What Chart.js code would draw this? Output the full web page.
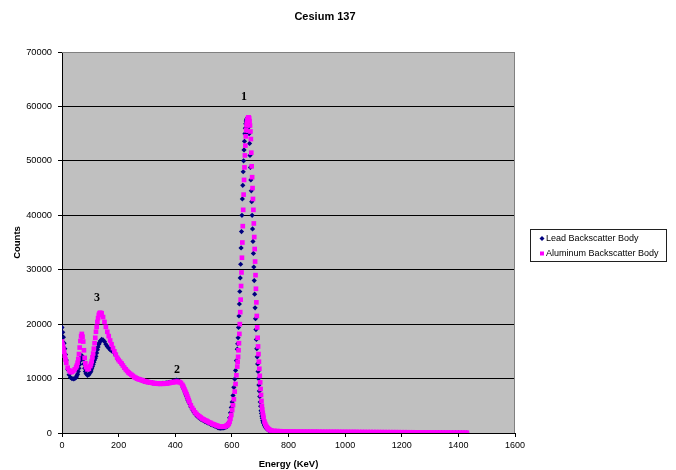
<!DOCTYPE html>
<html><head><meta charset="utf-8">
<script src="https://cdn.jsdelivr.net/npm/chart.js@4.4.1/dist/chart.umd.min.js"></script>
<style>html,body{margin:0;padding:0;background:#fff}#wrap{width:676px;height:470px}</style>
</head><body><div id="wrap"><canvas id="c" width="676" height="470"></canvas></div>
<script>
const chartTitle = 'Cesium 137';
const xAxisTitle = 'Energy (KeV)';
const yAxisTitle = 'Counts';
const seriesNames = ['Lead Backscatter Body', 'Aluminum Backscatter Body'];
const xTicks = [0, 200, 400, 600, 800, 1000, 1200, 1400, 1600];
const yTicks = [0, 10000, 20000, 30000, 40000, 50000, 60000, 70000];

// Energy grid (keV), in segments
const energyLow = [0,5,10,15,20,25,30,35,40,45,50,55,60,65,70,75,80,85,90,95,100,105,110,115,120,125,130,135,140,145,150,155,160,165,170,175,180,185,190,195,200,205,210,215,220,225,230,235,240,245,250,255,260,265,270,275,280,285,290,295,300,305,310,315,320,325,330,335,340,345,350,355,360,365,370,375,380,385,390,395,400,405,410,415,420,425,430,435,440,445,450,455,460,465,470,475,480,485,490,495,500,505,510,515,520,525,530,535,540,545,550,555,560,565,570,575,580];
const energyExtra = [2.5,7.5,12.5,52.5,57.5,62.5,67.5,72.5,77.5,82.5,102.5,107.5,112.5,117.5,122.5,127.5,132.5,427.5,432.5,437.5,442.5,447.5];
const energyRise = [583,586,589,592,595,598,601,604,607,610,613,616];
const energyPeak = [619,620.5,622,623.5,625,626.5,628,629.5,631,632.5,634,635.5,637,638.5,640,641.5,643,644.5,646,647.5,649,650.5,652,653.5,655,656.5,658,659.5,661,662.5,664,665.5,667,668.5,670,671.5,673,674.5,676,677.5,679,680.5,682,683.5,685,686.5,688,689.5,691,692.5,694,695.5,697,698.5,700,701.5,703,704.5,706,707.5,709,710.5,712];
const energyFall = [715,718,721,724,727,730,733,736];
const energyTail = [740,750,760,770,780,790,800,810,820,830,840,850,860,870,880,890,900,910,920,930,940,950,960,970,980,990,1000,1010,1020,1030,1040,1050,1060,1070,1080,1090,1100,1110,1120,1130,1140,1150,1160,1170,1180,1190,1200,1210,1220,1230,1240,1250,1260,1270,1280,1290,1300,1310,1320,1330,1340,1350,1360,1370,1380,1390,1400,1410,1420,1430];

// Lead Backscatter Body counts
const leadLow = [19400,17600,15500,13400,11700,10700,10200,10000,9950,10000,10200,10800,11900,13300,14200,13500,11900,10900,10600,10700,11100,11800,12600,13400,14100,15300,16300,16900,17200,17100,16800,16300,15900,15600,15300,15100,15000,14700,14300,13800,13400,13100,12800,12400,12000,11700,11400,11150,10900,10700,10500,10300,10100,10000,9900,9800,9700,9600,9500,9450,9400,9350,9300,9250,9200,9150,9100,9100,9050,9050,9050,9100,9100,9150,9200,9250,9300,9350,9450,9550,9650,9700,9650,9450,9150,8700,8100,7400,6700,6000,5400,4800,4300,3900,3500,3200,2950,2750,2550,2400,2250,2100,2000,1850,1750,1600,1500,1400,1250,1150,1000,900,900,900,950,1000,1100];
const leadExtra = [18500,16500,14400,10500,11300,12600,13900,14000,12700,11300,11400,12200,13000,13750,14700,15800,16600,8400,7750,7050,6350,5700];
const leadRise = [1200,1450,1900,2800,3700,4700,5700,6900,8400,9900,11500,13300];
const leadPeak = [15400,16400,17500,19400,21500,23700,26000,28500,31000,34000,37000,40000,43000,45500,48000,50000,52000,53600,55000,56000,56800,57300,57600,57800,57800,57500,57000,56200,55000,53200,51000,48800,46500,44500,42500,40000,37500,35200,33000,30500,28000,25500,23000,21000,19000,17200,15500,14000,12700,11300,10000,8800,7700,6700,5700,4900,4100,3600,3100,2700,2300,2000,1800];
const leadFall = [1400,1100,900,750,600,500,400,350];
const leadTail = [300,260,230,210,200,190,185,180,175,170,165,160,160,155,150,150,145,140,140,135,130,130,125,120,120,115,110,110,105,100,100,95,90,90,85,80,80,75,70,70,65,60,60,55,50,50,50,45,45,40,40,40,35,35,35,30,30,30,30,25,25,25,25,20,20,20,20,20,20,20];

// Aluminum Backscatter Body counts
const aluminumLow = [16800,15600,14200,12900,12000,11500,11200,11200,11400,11700,12100,12900,14500,16900,18200,16800,13800,12100,11700,11800,12300,13200,14600,16500,18600,20400,21700,22100,22000,21300,20400,19500,18600,17800,17000,16300,15600,15000,14400,13800,13400,13100,12800,12400,12000,11700,11400,11100,10900,10700,10500,10300,10150,10000,9900,9800,9750,9650,9550,9450,9400,9350,9300,9250,9200,9150,9100,9100,9050,9050,9050,9050,9050,9100,9100,9150,9200,9250,9300,9350,9400,9400,9400,9350,9200,8850,8300,7700,7100,6400,5700,5100,4600,4200,3800,3500,3250,3050,2850,2650,2500,2350,2250,2100,1950,1850,1700,1600,1500,1400,1300,1200,1150,1150,1150,1200,1300];
const aluminumExtra = [16200,14900,13500,12400,13600,15700,17800,17700,15200,12800,12700,13900,15500,17500,19500,21100,22000,8600,8000,7400,6750,6050];
const aluminumRise = [1400,1500,1700,2050,2600,3300,4200,5100,6200,7600,9000,10600];
const aluminumPeak = [12200,13100,14000,15200,16500,18200,20000,22200,24500,27000,29500,32200,35000,38000,41000,43800,46500,48800,51000,52800,54500,55600,56500,57000,57500,57800,58000,58000,57800,57300,56500,55400,54000,51500,49000,47000,45000,43000,41000,38500,36000,33800,31500,29000,26500,24000,21500,19400,17500,15900,14500,13100,11800,10500,9300,8100,7000,5900,5000,4300,3700,3200,2800];
const aluminumFall = [2100,1650,1300,1050,850,700,600,500];
const aluminumTail = [450,400,360,330,310,300,290,280,275,270,265,260,255,250,250,245,240,240,235,230,230,225,220,220,215,210,210,205,200,200,195,190,190,185,180,180,175,170,170,165,160,160,155,150,150,145,140,140,135,130,130,125,120,120,115,110,110,105,100,100,95,90,90,85,80,80,75,70,70,65];

// Peak annotations
const peakLabels = ['1', '2', '3'];
const peakLabelKeV = [643, 406, 124];
const peakLabelCounts = [61700, 11600, 24800];

const energyKeV = [].concat(energyLow, energyExtra, energyRise, energyPeak, energyFall, energyTail);
const leadCounts = [].concat(leadLow, leadExtra, leadRise, leadPeak, leadFall, leadTail);
const aluminumCounts = [].concat(aluminumLow, aluminumExtra, aluminumRise, aluminumPeak, aluminumFall, aluminumTail);

function pts(ys) {
  const n = Math.min(energyKeV.length, ys.length);
  const out = [];
  for (let i = 0; i < n; i++) out.push({ x: energyKeV[i], y: ys[i] });
  return out;
}

const F = 'Arial, "Liberation Sans", sans-serif';
const SERIF = '"Liberation Serif", "Times New Roman", serif';
const leadColor = '#000080';
const alColor = '#FF00FF';

const decor = {
  id: 'decor',
  beforeDraw(chart) {
    const { ctx, chartArea: a } = chart;
    ctx.save();
    ctx.fillStyle = '#ffffff';
    ctx.fillRect(0, 0, chart.width, chart.height);
    ctx.fillStyle = '#C0C0C0';
    ctx.fillRect(a.left, a.top, a.right - a.left, a.bottom - a.top);
    ctx.restore();
  },
  beforeDatasetsDraw(chart) {
    const { ctx, chartArea: a } = chart;
    ctx.save();
    ctx.strokeStyle = '#808080';
    ctx.lineWidth = 1;
    ctx.beginPath();
    ctx.moveTo(a.left, a.top + 0.5);
    ctx.lineTo(a.right - 0.5, a.top + 0.5);
    ctx.lineTo(a.right - 0.5, a.bottom);
    ctx.stroke();
    ctx.restore();
  },
  afterDraw(chart) {
    const { ctx } = chart;
    const xs = chart.scales.x, ys = chart.scales.y;
    ctx.save();
    ctx.fillStyle = '#000';
    ctx.font = 'bold 11px ' + F;
    ctx.textAlign = 'center';
    ctx.textBaseline = 'middle';
    ctx.fillText(chartTitle, 325, 17);
    ctx.font = 'bold 12px ' + SERIF;
    for (let i = 0; i < peakLabels.length; i++) {
      ctx.fillText(peakLabels[i], xs.getPixelForValue(peakLabelKeV[i]), ys.getPixelForValue(peakLabelCounts[i]));
    }
    const lx = 530, ly = 229, lw = 136, lh = 32;
    ctx.fillStyle = '#fff';
    ctx.fillRect(lx, ly, lw, lh);
    ctx.strokeStyle = '#202020';
    ctx.lineWidth = 1;
    ctx.strokeRect(lx + 0.5, ly + 0.5, lw, lh);
    ctx.font = '9px ' + F;
    ctx.textAlign = 'left';
    ctx.textBaseline = 'middle';
    const rows = [ly + 9.5, ly + 24.5];
    ctx.fillStyle = leadColor;
    ctx.beginPath();
    ctx.moveTo(542, rows[0] - 2.5); ctx.lineTo(544.5, rows[0]); ctx.lineTo(542, rows[0] + 2.5); ctx.lineTo(539.5, rows[0]); ctx.closePath();
    ctx.fill();
    ctx.fillStyle = alColor;
    ctx.fillRect(540, rows[1] - 2, 4, 4);
    ctx.fillStyle = '#000';
    ctx.fillText(seriesNames[0], 546, rows[0]);
    ctx.fillText(seriesNames[1], 546, rows[1]);
    ctx.restore();
  }
};

new Chart(document.getElementById('c'), {
  type: 'scatter',
  data: {
    datasets: [
      { label: seriesNames[0], data: pts(leadCounts), pointStyle: 'rectRot', pointRadius: 2.6, pointBackgroundColor: leadColor, backgroundColor: leadColor, pointBorderWidth: 0, borderWidth: 0, showLine: false, order: 2 },
      { label: seriesNames[1], data: pts(aluminumCounts), pointStyle: 'rect', pointRadius: 3.3, pointBackgroundColor: alColor, backgroundColor: alColor, pointBorderWidth: 0, borderWidth: 0, showLine: false, order: 1 }
    ]
  },
  options: {
    responsive: false,
    animation: false,
    devicePixelRatio: 1,
    layout: { padding: { top: 52, right: 161, bottom: 0, left: 0 } },
    plugins: { legend: { display: false }, tooltip: { enabled: false }, title: { display: false } },
    scales: {
      x: {
        type: 'linear', min: 0, max: 1600,
        afterBuildTicks: s => { s.ticks = xTicks.map(v => ({ value: v })); },
        afterFit: s => { s.height = 37; },
        grid: { drawOnChartArea: false, drawTicks: true, tickLength: 4, tickColor: '#000' },
        border: { display: true, color: '#000', width: 1 },
        ticks: { padding: 3, color: '#000', font: { size: 9, family: F }, maxRotation: 0, autoSkip: false, callback: v => String(v) },
        title: { display: true, text: xAxisTitle, color: '#000', font: { size: 9.5, weight: 'bold', family: F }, padding: { top: 0, bottom: 0 } }
      },
      y: {
        type: 'linear', min: 0, max: 70000,
        afterBuildTicks: s => { s.ticks = yTicks.map(v => ({ value: v })); },
        afterFit: s => { s.width = 62; },
        grid: { color: c => (c.tick && c.tick.value === 70000) ? '#808080' : '#000', lineWidth: 1, drawTicks: true, tickLength: 4, tickColor: '#000' },
        border: { display: true, color: '#000', width: 1 },
        ticks: { padding: 6, color: '#000', font: { size: 9.3, family: F }, autoSkip: false, callback: v => String(v) },
        title: { display: true, text: yAxisTitle, color: '#000', font: { size: 9.5, weight: 'bold', family: F }, padding: { top: 12, bottom: 0 } }
      }
    }
  },
  plugins: [decor]
});
</script>
</body></html>
